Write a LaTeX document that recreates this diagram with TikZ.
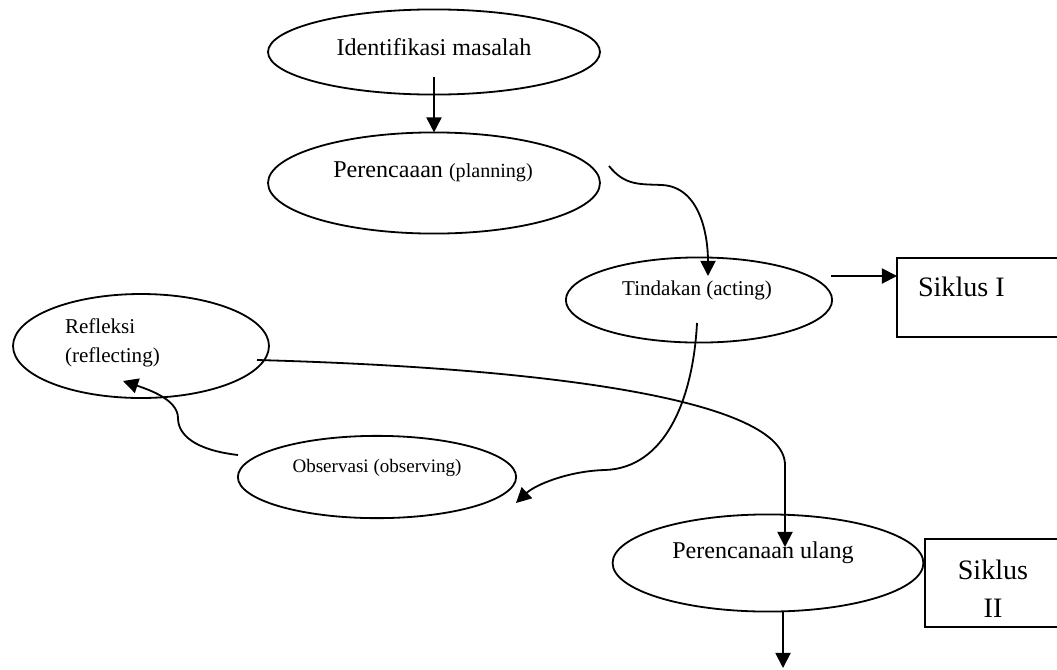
\documentclass[tikz,border=0pt]{standalone}
\usepackage{fontspec}
\setmainfont{Liberation Serif}
\usetikzlibrary{arrows.meta,shapes.geometric}

\begin{document}
\begin{tikzpicture}[
  x=0.0175cm, y=-0.0175cm,
  every node/.style={inner sep=0pt, outer sep=0pt},
  oval/.style={draw, ellipse, line width=0.9pt},
  box/.style={draw, rectangle, line width=0.9pt, anchor=north west},
  txt/.style={font=\fontsize{12}{14}\selectfont},
  small/.style={font=\fontsize{10.5}{14.4}\selectfont, align=left},
  tiny/.style={font=\fontsize{9.5}{12}\selectfont},
  big/.style={font=\fontsize{14}{19}\selectfont, align=center},
  arr/.style={-{Triangle[length=7.5pt,width=7.5pt]}, line width=0.9pt}
]
\useasboundingbox (0,0) rectangle (1057,669);

\node[oval, minimum width=5.81cm, minimum height=1.49cm] (ident) at (434,52) {};
\node[oval, minimum width=5.81cm, minimum height=1.77cm] (plan) at (434,183) {};
\node[oval, minimum width=4.66cm, minimum height=1.49cm] (act) at (699,300) {};
\node[oval, minimum width=4.48cm, minimum height=1.82cm] (refl) at (141,346) {};
\node[oval, minimum width=4.87cm, minimum height=1.44cm] (obs) at (377,477) {};
\node[oval, minimum width=5.44cm, minimum height=1.70cm] (replan) at (768,563) {};
\node[box, minimum width=3.03cm, minimum height=1.38cm] (sik1) at (897,258) {};
\node[box, minimum width=2.54cm, minimum height=1.54cm] (sik2) at (925,539) {};

\node[txt] (identtxt) at (434,47) {Identifikasi masalah};
\node[txt] (plantxt) at (433,172) {Perencaaan {\fontsize{10}{12}\selectfont(planning)}};
\node[small] (acttxt) at (697,290) {Tindakan (acting)};
\node[small, anchor=west] (refltxt) at (65,343) {Refleksi\\(reflecting)};
\node[tiny] (obstxt) at (377,468) {Observasi (observing)};
\node[txt] (replantxt) at (763,553) {Perencanaan ulang};
\node[big, anchor=west] (sik1txt) at (918,287) {Siklus I};
\node[big] (sik2txt) at (993,589) {Siklus\\II};

\coordinate (p1) at (609,166);
\coordinate (p2) at (708,276);
\coordinate (a1) at (831,276);
\coordinate (t1) at (697,323);
\coordinate (t2) at (516,503);
\coordinate (o1) at (238,455);
\coordinate (o2) at (123,381);
\coordinate (r1) at (257,360);
\coordinate (r2) at (785,547);
\coordinate (u1) at (783,612);
\coordinate (u2) at (783,668);

\draw[arr] ([yshift=0.315cm]ident.south) -- (plan.north);
\draw[arr] (p1) .. controls (625,186) and (640,184) .. (662,185)
  .. controls (700,187) and (708,235) .. (p2);
\draw[arr] (a1) -- (a1 -| sik1.west);
\draw[arr] (t1) .. controls (693,400) and (665,468) .. (605,470)
  .. controls (568,471) and (535,485) .. (t2);
\draw[arr] (o1) .. controls (195,450) and (178,435) .. (178,418)
  .. controls (178,400) and (150,390) .. (o2);
\draw[arr] (r1) .. controls (550,368) and (785,400) .. (785,465) -- (r2);
\draw[arr] (u1) -- (u2);
\end{tikzpicture}
\end{document}
